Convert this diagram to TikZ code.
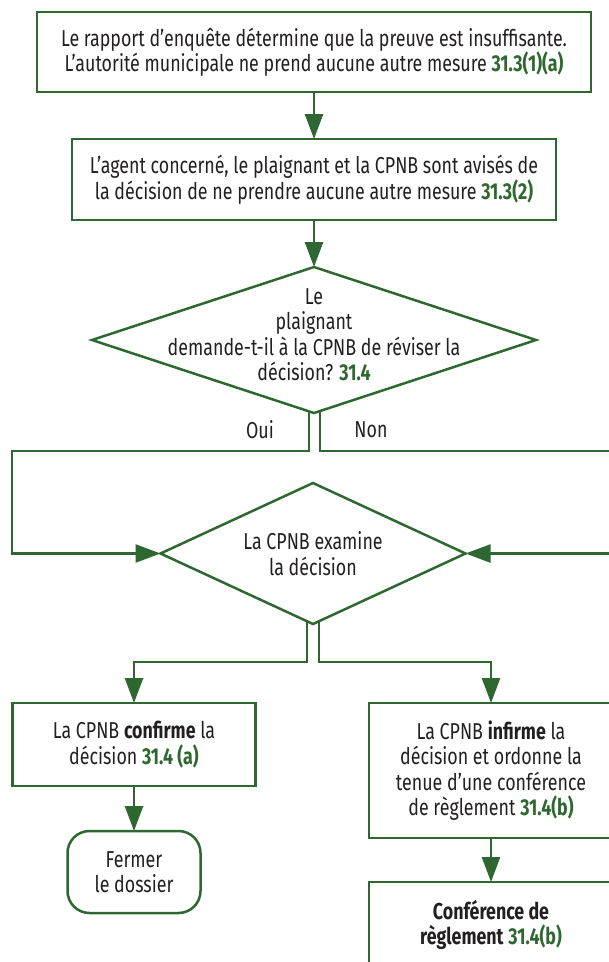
\documentclass[tikz,border=0pt]{standalone}
\usepackage{fontspec}
\setmainfont[FakeStretch=0.775]{Fira Sans}
\usetikzlibrary{arrows.meta,shapes.geometric}
\definecolor{flowgreen}{RGB}{46,104,48}
\definecolor{inkgray}{RGB}{35,31,32}
\newcommand{\artref}[1]{\textcolor{flowgreen}{\textbf{#1}}}
\begin{document}
\begin{tikzpicture}[x=1pt,y=-1pt,
  every node/.style={font=\fontsize{23}{25.5}\selectfont, text=inkgray,
    inner sep=0pt, outer sep=0pt, align=center},
  stepbox/.style={draw=flowgreen, line width=2.5pt, rectangle},
  endbox/.style={stepbox, rounded corners=22pt},
  choice/.style={draw=flowgreen, line width=2.5pt, diamond},
  link/.style={draw=flowgreen, line width=2.5pt},
  arr/.style={link, -{Triangle[length=25pt,width=18pt]}}]

\useasboundingbox (0,0) rectangle (609,962);

% process steps
\node[stepbox, minimum width=554pt, minimum height=80pt] (b1) at (314,52)
  {Le rapport d’enquête détermine que la preuve est insuffisante.\\
   L’autorité municipale ne prend aucune autre mesure \artref{31.3(1)(a)}};
\node[stepbox, minimum width=484pt, minimum height=81pt] (b2) at (314,179.5)
  {L’agent concerné, le plaignant et la CPNB sont avisés de\\
   la décision de ne prendre aucune autre mesure \artref{31.3(2)}};

% decisions
\node[choice, minimum width=444pt, minimum height=146pt,
  label={[yshift=5pt]center:Le\\plaignant\\demande-t-il à la CPNB de réviser la\\décision? \artref{31.4}}]
  (d1) at (314,340) {};
\node[choice, minimum width=305pt, minimum height=141pt,
  label={center:La CPNB examine\\la décision}]
  (d2) at (313,553.5) {};

% outcomes
\node[stepbox, minimum width=243pt, minimum height=83pt] (b3) at (134,744.5)
  {La CPNB \textbf{confirme} la\\décision \artref{31.4 (a)}};
\node[endbox, minimum width=133pt, minimum height=82pt] (term) at (134,872)
  {Fermer\\le dossier};
\node[stepbox, minimum width=244pt, minimum height=135pt] (b5) at (491,770.5)
  {La CPNB \textbf{infirme} la\\décision et ordonne la\\tenue d’une conférence\\de règlement \artref{31.4(b)}};
\node[stepbox, minimum width=244pt, minimum height=86pt] (b6) at (491,925)
  {\textbf{Conférence de}\\\textbf{règlement} \artref{31.4(b)}};

% branch labels
\node (oui) at (260,430) {Oui};
\node (non) at (371,430) {Non};

% routing corners
\coordinate (ouiTurn) at (12,451);
\coordinate (nonTurn) at (616,451);
\coordinate (splitL) at (134,662);
\coordinate (splitR) at (491,662);

% connectors
\draw[arr] (b1.south) -- (b2.north);
\draw[arr] (b2.south) -- (d1.north);
\draw[arr] ([xshift=-5pt,yshift=1.5pt]d1.south) |- (ouiTurn) |- (d2.west);
\draw[arr] ([xshift=6pt,yshift=1.5pt]d1.south) |- (nonTurn) |- (d2.east);
\draw[arr] ([xshift=-6pt,yshift=2pt]d2.south) |- (splitL) -- (b3.north);
\draw[arr] ([xshift=6pt,yshift=2pt]d2.south) |- (splitR) -- (b5.north);
\draw[arr] (b3.south) -- (term.north);
\draw[arr] (b5.south) -- (b6.north);
\end{tikzpicture}
\end{document}
